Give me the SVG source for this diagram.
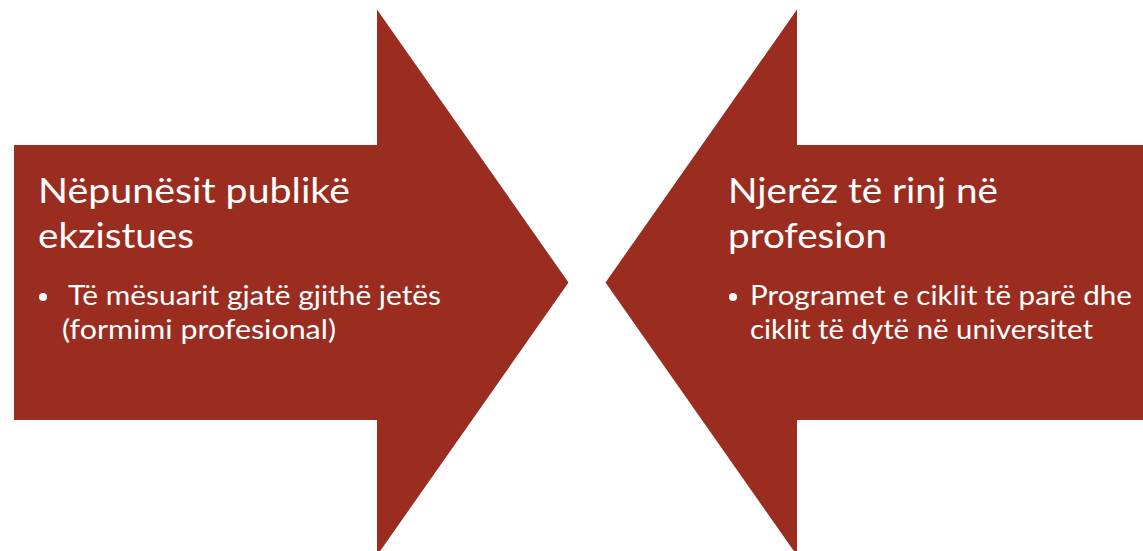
<svg xmlns="http://www.w3.org/2000/svg" width="1143" height="551" viewBox="0 0 1143 551">
<style>
.shape{fill:#9B2D20;}
.t{fill:#ffffff;font-family:Lato,"Open Sans","Liberation Sans",sans-serif;}
.h{font-size:35px;}
.b{font-size:26px;}
</style>
<rect width="1143" height="551" fill="#ffffff"/>
<g id="left-arrow">
<polygon class="shape" points="14,145 377,145 377,9.5 568.5,282.5 377,555.5 377,420 14,420"/>
<text class="t h" x="38" y="202.5" textLength="312" lengthAdjust="spacingAndGlyphs">Nëpunësit publikë</text>
<text class="t h" x="38" y="247.5" textLength="156" lengthAdjust="spacingAndGlyphs">ekzistues</text>
<circle cx="43" cy="297" r="4" fill="#ffffff"/>
<text class="t b" x="68" y="305" textLength="373" lengthAdjust="spacingAndGlyphs">Të mësuarit gjatë gjithë jetës</text>
<text class="t b" x="62" y="339" textLength="274" lengthAdjust="spacingAndGlyphs">(formimi profesional)</text>
</g>
<g id="right-arrow">
<polygon class="shape" points="1143,145 797,145 797,9.5 605.5,282.5 797,555.5 797,420 1143,420"/>
<text class="t h" x="728" y="202.5" textLength="270" lengthAdjust="spacingAndGlyphs">Njerëz të rinj në</text>
<text class="t h" x="728" y="247.5" textLength="159" lengthAdjust="spacingAndGlyphs">profesion</text>
<circle cx="733" cy="297" r="4" fill="#ffffff"/>
<text class="t b" x="750" y="305" textLength="382" lengthAdjust="spacingAndGlyphs">Programet e ciklit të parë dhe</text>
<text class="t b" x="750" y="339" textLength="343" lengthAdjust="spacingAndGlyphs">ciklit të dytë në universitet</text>
</g>
<g id="connectors"></g>
</svg>
